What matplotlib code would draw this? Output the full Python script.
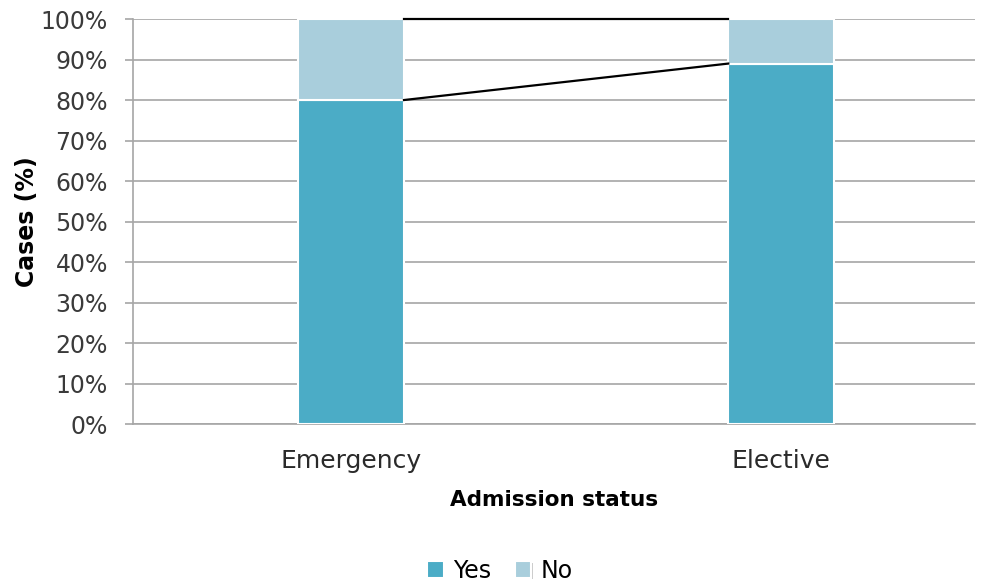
import matplotlib.pyplot as plt
import matplotlib.patheffects as pe
from matplotlib.ticker import PercentFormatter

# admission status vs. share of cases
categories = ['Emergency', 'Elective']
yes_pct = [80, 89]
no_pct = [20, 11]

yes_color = '#4BACC6'
no_color = '#A9CEDC'
grid_color = '#A6A6A6'

plt.rcParams['font.family'] = ['DejaVu Sans']

fig = plt.figure(figsize=(9.88, 5.85), dpi=100)
ax = fig.add_axes([0.1346, 0.275, 0.852, 0.6925])

x = list(range(len(categories)))
width = 0.246
shadow = [pe.SimplePatchShadow(offset=(1, -1), shadow_rgbFace='#999999', alpha=0.5), pe.Normal()]

bars_yes = ax.bar(x, yes_pct, width, color=yes_color, edgecolor='white', linewidth=1.5,
                  label='Yes', zorder=3, path_effects=shadow)
bars_no = ax.bar(x, no_pct, width, bottom=yes_pct, color=no_color, edgecolor='white',
                 linewidth=1.5, label='No', zorder=3, path_effects=shadow)

# series lines between the stacked segments
tops_all = [a + b for a, b in zip(yes_pct, no_pct)]
for i in range(len(x) - 1):
    xs = [x[i] + width / 2, x[i + 1] - width / 2]
    ax.plot(xs, [yes_pct[i], yes_pct[i + 1]], color='black', lw=1.6, zorder=4)
    ax.plot(xs, [tops_all[i], tops_all[i + 1]], color='black', lw=1.6, zorder=4, clip_on=False)

ax.set_xlim(-0.507, 1.45)
ax.set_ylim(0, 100)
ax.set_yticks(range(0, 101, 10))
ax.yaxis.set_major_formatter(PercentFormatter(decimals=0))
ax.set_xticks(x)
ax.set_xticklabels(categories)

ax.grid(axis='y', color=grid_color, lw=1.2, zorder=0)
for s in ['top', 'right']:
    ax.spines[s].set_visible(False)
for s in ['left', 'bottom']:
    ax.spines[s].set_color(grid_color)
    ax.spines[s].set_linewidth(1.2)

ax.tick_params(axis='y', colors=grid_color, labelcolor='#3a3a3a', labelsize=17, length=6, width=1.2, pad=12)
ax.tick_params(axis='x', length=0, labelsize=18, labelcolor='#2a2a2a', pad=18)

ax.set_ylabel('Cases (%)', fontsize=17, fontweight='bold', labelpad=1)
ax.set_xlabel('Admission status', fontsize=15.5, fontweight='bold', labelpad=12)

fig.legend(handles=[bars_yes, bars_no], labels=['Yes', 'No'], loc='center',
           bbox_to_anchor=(0.506, 0.024), ncol=2, frameon=False, fontsize=17,
           handlelength=0.7, handleheight=0.7, handletextpad=0.4, columnspacing=1.0)

fig.savefig('out.png', dpi=100)
